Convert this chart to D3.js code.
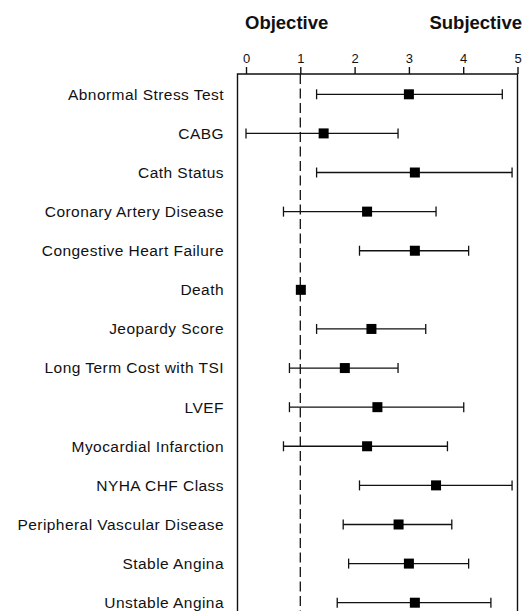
<!DOCTYPE html>
<html>
<head>
<meta charset="utf-8">
<script src="https://cdn.jsdelivr.net/npm/d3@7"></script>
<style>
  body { margin: 0; background: #fff; }
  text { font-family: "Liberation Sans", Arial, sans-serif; fill: #111; }
  .row-label { font-size: 15.5px; letter-spacing: 0.45px; }
  .tick-label { font-size: 13px; }
  .title { font-size: 18.5px; font-weight: bold; }
</style>
</head>
<body>
<svg width="529" height="611"></svg>
<script>
const categories = [
    'Abnormal Stress Test', 'CABG', 'Cath Status', 'Coronary Artery Disease',
    'Congestive Heart Failure', 'Death', 'Jeopardy Score', 'Long Term Cost with TSI',
    'LVEF', 'Myocardial Infarction', 'NYHA CHF Class', 'Peripheral Vascular Disease',
    'Stable Angina', 'Unstable Angina'
];
const means = [3.0, 1.43, 3.11, 2.23, 3.11, 1.01, 2.31, 1.82, 2.42, 2.23, 3.5, 2.81, 3.0, 3.11];
const lows  = [1.3, 0.0, 1.3, 0.69, 2.09, null, 1.3, 0.8, 0.8, 0.69, 2.09, 1.79, 1.89, 1.68];
const highs = [4.72, 2.8, 4.9, 3.5, 4.1, null, 3.31, 2.8, 4.01, 3.71, 4.9, 3.79, 4.1, 4.51];
const tickValues = [0, 1, 2, 3, 4, 5];
const refValue = 1;

const data = categories.map((c, i) => ({ name: c, mean: means[i], low: lows[i], high: highs[i] }));

const svg = d3.select('svg');

const xScale = d3.scaleLinear()
    .domain([0, 5])
    .range([246, 517.5]);

const yScale = d3.scalePoint()
    .domain(categories)
    .range([94.3, 602.7]);

const boxTop = 74;
const boxLeft = 237.5;
const boxBottom = 640;

// frame (open at the bottom, runs off the page)
svg.append('path')
    .attr('d', `M${boxLeft},${boxBottom} V${boxTop} H${xScale(5)} V${boxBottom}`)
    .attr('fill', 'none')
    .attr('stroke', '#111')
    .attr('stroke-width', 1.4);

// top axis
const axis = svg.append('g')
    .attr('transform', `translate(0, ${boxTop})`)
    .call(d3.axisTop(xScale).tickValues(tickValues).tickSize(7).tickPadding(4).tickFormat(d3.format('d')));

axis.select('.domain').remove();
axis.selectAll('.tick line').attr('stroke', '#111').attr('stroke-width', 1.4);
axis.selectAll('.tick text')
    .attr('class', 'tick-label')
    .attr('fill', '#111')
    .style('font-family', '"Liberation Sans", Arial, sans-serif');

// reference line
svg.append('line')
    .attr('x1', xScale(refValue))
    .attr('x2', xScale(refValue))
    .attr('y1', boxTop)
    .attr('y2', boxBottom)
    .attr('stroke', '#111')
    .attr('stroke-width', 1.3)
    .attr('stroke-dasharray', '10,4.5');

// row labels
svg.append('g')
    .selectAll('text')
    .data(data)
    .enter()
    .append('text')
    .attr('class', 'row-label')
    .attr('x', 224)
    .attr('y', (d) => yScale(d.name))
    .attr('dy', '0.35em')
    .attr('text-anchor', 'end')
    .text((d) => d.name);

// error bars
const bars = svg.append('g')
    .selectAll('g')
    .data(data.filter((d) => d.low !== null))
    .enter()
    .append('g')
    .attr('stroke', '#111')
    .attr('stroke-width', 1.3);

bars.append('line')
    .attr('x1', (d) => xScale(d.low))
    .attr('x2', (d) => xScale(d.high))
    .attr('y1', (d) => yScale(d.name))
    .attr('y2', (d) => yScale(d.name));

bars.append('line')
    .attr('x1', (d) => xScale(d.low))
    .attr('x2', (d) => xScale(d.low))
    .attr('y1', (d) => yScale(d.name) - 5)
    .attr('y2', (d) => yScale(d.name) + 5);

bars.append('line')
    .attr('x1', (d) => xScale(d.high))
    .attr('x2', (d) => xScale(d.high))
    .attr('y1', (d) => yScale(d.name) - 5)
    .attr('y2', (d) => yScale(d.name) + 5);

// mean markers
svg.append('g')
    .selectAll('rect')
    .data(data)
    .enter()
    .append('rect')
    .attr('x', (d) => xScale(d.mean) - 5)
    .attr('y', (d) => yScale(d.name) - 5)
    .attr('width', 10)
    .attr('height', 10)
    .attr('fill', '#000');

// titles
svg.append('text')
    .attr('class', 'title')
    .attr('x', xScale(0) - 1)
    .attr('y', 29)
    .attr('text-anchor', 'start')
    .text('Objective');

svg.append('text')
    .attr('class', 'title')
    .attr('x', xScale(5) + 4.5)
    .attr('y', 29)
    .attr('text-anchor', 'end')
    .text('Subjective');
</script>
</body>
</html>
